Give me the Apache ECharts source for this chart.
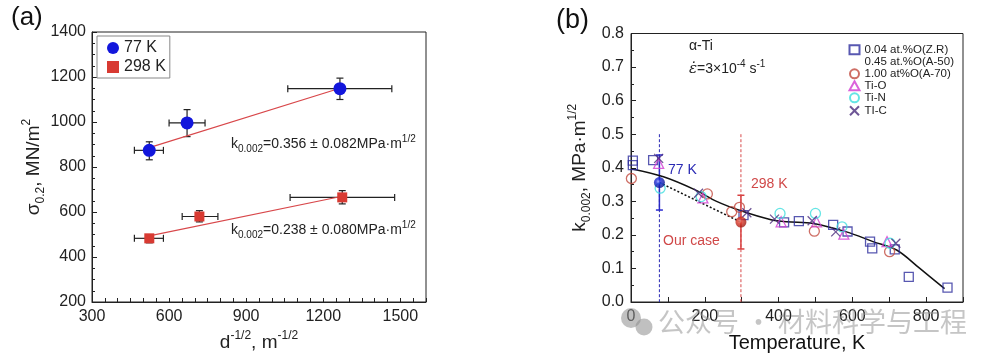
<!DOCTYPE html>
<html><head><meta charset="utf-8">
<script src="https://cdn.jsdelivr.net/npm/echarts/dist/echarts.min.js"></script>
<style>html,body{margin:0;padding:0;background:#fff}#c{width:983px;height:363px}</style>
</head><body><div id="c"></div><script>
// ---------- Panel (a) data ----------
const a77X = [523, 670, 1265];
const a77Y = [874, 996, 1148];
const a77XErr = [[465, 578], [600, 740], [1062, 1467]];
const a77YErr = [[832, 912], [935, 1055], [1100, 1195]];
const a298X = [523, 718, 1274];
const a298Y = [483, 580, 665];
const a298XErr = [[465, 578], [651, 790], [1071, 1478]];
const a298YErr = [[463, 499], [556, 606], [636, 695]];
const fit77 = [[523, 886], [1265, 1150]];
const fit298 = [[523, 494], [1274, 670]];
const aXTicks = [300, 600, 900, 1200, 1500];

// ---------- Panel (b) data ----------
const zrT  = [5, 5, 60, 305, 415, 455, 548, 587, 648, 654, 715, 753, 858];
const zrK  = [0.421, 0.408, 0.423, 0.259, 0.237, 0.241, 0.230, 0.210, 0.180, 0.160, 0.157, 0.075, 0.043];
const a50T = [];
const a50K = [];
const a70T = [1, 207, 273, 294, 497, 701];
const a70K = [0.368, 0.322, 0.269, 0.282, 0.211, 0.150];
const tiOT = [75, 195, 407, 503, 577, 694];
const tiOK = [0.413, 0.310, 0.239, 0.239, 0.202, 0.180];
const tiNT = [79, 190, 404, 500, 572, 702];
const tiNK = [0.339, 0.314, 0.264, 0.264, 0.224, 0.175];
const tiCT = [75, 183, 314, 389, 491, 555, 718];
const tiCK = [0.428, 0.324, 0.266, 0.247, 0.242, 0.209, 0.175];
const curveT = [0, 88, 174, 232, 300, 377, 422, 494, 584, 656, 720, 783, 850];
const curveK = [0.397, 0.373, 0.334, 0.300, 0.271, 0.246, 0.239, 0.234, 0.209, 0.180, 0.155, 0.100, 0.040];
const ourT = [77, 298];
const ourK = [0.356, 0.238];
const ourErr = [0.082, 0.080];
const refTop = 0.5;

const FONT = "'Liberation Sans', Arial, sans-serif";
const zip = (xs, ys) => xs.map((x, i) => [x, ys[i]]);

function errBars(xi, xs, ys, xe, ye, color, lw, cap) {
  return {
    type: 'custom', xAxisIndex: xi, yAxisIndex: xi, z: 2, silent: true,
    data: xs.map((x, i) => [x, ys[i], xe ? xe[i][0] : x, xe ? xe[i][1] : x, ye[i][0], ye[i][1]]),
    renderItem: function (params, api) {
      const x = api.value(0), y = api.value(1);
      const l = api.coord([api.value(2), y]), r = api.coord([api.value(3), y]);
      const b = api.coord([x, api.value(4)]), t = api.coord([x, api.value(5)]);
      const st = { stroke: color, lineWidth: lw };
      const ch = [];
      if (r[0] - l[0] > 0.5) {
        ch.push({ type: 'line', shape: { x1: l[0], y1: l[1], x2: r[0], y2: r[1] }, style: st });
        ch.push({ type: 'line', shape: { x1: l[0], y1: l[1] - cap, x2: l[0], y2: l[1] + cap }, style: st });
        ch.push({ type: 'line', shape: { x1: r[0], y1: r[1] - cap, x2: r[0], y2: r[1] + cap }, style: st });
      }
      ch.push({ type: 'line', shape: { x1: b[0], y1: b[1], x2: t[0], y2: t[1] }, style: st });
      ch.push({ type: 'line', shape: { x1: b[0] - cap, y1: b[1], x2: b[0] + cap, y2: b[1] }, style: st });
      ch.push({ type: 'line', shape: { x1: t[0] - cap, y1: t[1], x2: t[0] + cap, y2: t[1] }, style: st });
      return { type: 'group', children: ch };
    }
  };
}

const axisCommon = {
  axisLine: { show: true, lineStyle: { color: '#222', width: 1 } },
  axisTick: { show: true, inside: true, length: 5, lineStyle: { color: '#222' } },
  splitLine: { show: false },
  axisLabel: { color: '#222', fontSize: 16, fontFamily: FONT }
};
const nameRich = {
  n: { fontSize: 19, fontFamily: FONT, color: '#222', lineHeight: 26 },
  s: { fontSize: 12, fontFamily: FONT, color: '#222', verticalAlign: 'bottom' },
  p: { fontSize: 12, fontFamily: FONT, color: '#222', verticalAlign: 'top' }
};
const annRich = {
  n: { fontSize: 14, fontFamily: FONT, fill: '#222', lineHeight: 20 },
  s: { fontSize: 10, fontFamily: FONT, fill: '#222', verticalAlign: 'bottom' },
  p: { fontSize: 10, fontFamily: FONT, fill: '#222', verticalAlign: 'top' },
  e: { fontSize: 15, fontFamily: 'DejaVu Serif', fontStyle: 'italic', fill: '#222', lineHeight: 20 }
};

const hollow = (c) => ({ color: 'rgba(0,0,0,0)', borderColor: c, borderWidth: 1.3 });

const chart = echarts.init(document.getElementById('c'), null, { renderer: 'canvas' });
chart.setOption({
  animation: false,
  backgroundColor: '#fff',
  textStyle: { fontFamily: FONT },
  grid: [
    { left: 92, top: 32, width: 334, height: 270, show: true, borderColor: '#222', borderWidth: 1, containLabel: false },
    { left: 631, top: 33.5, width: 332, height: 268.5, show: true, borderColor: '#222', borderWidth: 1, containLabel: false }
  ],
  xAxis: [
    Object.assign({}, axisCommon, {
      gridIndex: 0, type: 'value', min: 300, max: 1600, interval: 50,
      axisLabel: Object.assign({}, axisCommon.axisLabel, { margin: 7,
        formatter: v => aXTicks.indexOf(Math.round(v)) >= 0 ? String(Math.round(v)) : '' }),
      axisTick: Object.assign({}, axisCommon.axisTick, { length: 4 }),
      name: '{n|d}{p|-1/2}{n|, m}{p|-1/2}', nameLocation: 'middle', nameGap: 27,
      nameTextStyle: { rich: nameRich }
    }),
    Object.assign({}, axisCommon, {
      gridIndex: 1, type: 'value', min: 0, max: 900, interval: 100,
      axisLabel: Object.assign({}, axisCommon.axisLabel, { margin: 7,
        formatter: v => (Math.round(v) % 200 === 0 ? String(Math.round(v)) : '') }),
      name: 'Temperature, K', nameLocation: 'middle', nameGap: 31,
      nameTextStyle: { fontSize: 20, fontFamily: FONT, color: '#111' }
    })
  ],
  yAxis: [
    Object.assign({}, axisCommon, {
      gridIndex: 0, type: 'value', min: 200, max: 1400, interval: 200,
      minorTick: { show: true, splitNumber: 4, length: 3, lineStyle: { color: '#222' } },
      axisLabel: Object.assign({}, axisCommon.axisLabel, { margin: 6, formatter: v => String(Math.round(v)) }),
      name: '{n|σ}{s|0.2}{n|, MN/m}{p|2}', nameLocation: 'middle', nameGap: 40, nameRotate: 90,
      nameTextStyle: { rich: nameRich }
    }),
    Object.assign({}, axisCommon, {
      gridIndex: 1, type: 'value', min: 0, max: 0.8, interval: 0.1,
      minorTick: { show: true, splitNumber: 2, length: 3, lineStyle: { color: '#222' } },
      axisLabel: Object.assign({}, axisCommon.axisLabel, { margin: 7, formatter: v => v.toFixed(1) }),
      name: '{n|k}{s|0.002}{n|, MPa·m}{p|1/2}', nameLocation: 'middle', nameGap: 38, nameRotate: 90,
      nameTextStyle: { rich: nameRich }
    })
  ],
  legend: [
    {
      left: 97, top: 36, orient: 'vertical', padding: [4, 4, 3, 10],
      borderColor: '#888', borderWidth: 1, borderRadius: 0,
      itemWidth: 12, itemHeight: 12, itemGap: 3,
      textStyle: { fontSize: 16, fontFamily: FONT, color: '#222' },
      data: ['77 K', { name: '298 K', icon: 'rect', itemStyle: { color: '#d83a32' } }]
    },
    {
      left: 847.5, top: 43.8, orient: 'vertical', padding: 0,
      itemWidth: 10, itemHeight: 9, itemGap: 0,
      textStyle: { fontSize: 11.5, fontFamily: FONT, color: '#222', lineHeight: 10.4 },
      data: [
        '0.04 at.%O(Z.R)',
        { name: '0.45 at.%O(A-50)', itemStyle: { opacity: 0 } },
        '1.00 at%O(A-70)', 'Ti-O', 'Ti-N', 'TI-C'
      ]
    }
  ],
  series: [
    // ----- panel (a) -----
    errBars(0, a77X, a77Y, a77XErr, a77YErr, '#222', 1.2, 3.5),
    errBars(0, a298X, a298Y, a298XErr, a298YErr, '#222', 1.2, 3.5),
    { type: 'line', xAxisIndex: 0, yAxisIndex: 0, data: fit77, symbol: 'none', z: 3,
      lineStyle: { color: '#d8474a', width: 1.2 } },
    { type: 'line', xAxisIndex: 0, yAxisIndex: 0, data: fit298, symbol: 'none', z: 3,
      lineStyle: { color: '#d8474a', width: 1.2 } },
    { name: '77 K', type: 'scatter', xAxisIndex: 0, yAxisIndex: 0, data: zip(a77X, a77Y),
      symbol: 'circle', symbolSize: 13, z: 4, itemStyle: { color: '#1216dc', opacity: 1 } },
    { name: '298 K', type: 'scatter', xAxisIndex: 0, yAxisIndex: 0, data: zip(a298X, a298Y),
      symbol: 'rect', symbolSize: 10, z: 4, itemStyle: { color: '#d83a32', opacity: 1 } },
    // ----- panel (b) -----
    { type: 'line', xAxisIndex: 1, yAxisIndex: 1, data: zip(curveT, curveK), symbol: 'none', smooth: 0.35, z: 3,
      lineStyle: { color: '#111', width: 1.5 } },
    { type: 'line', xAxisIndex: 1, yAxisIndex: 1, data: zip(ourT, ourK), symbol: 'none', z: 3,
      lineStyle: { color: '#111', width: 1.6, type: [2, 2] } },
    { type: 'line', xAxisIndex: 1, yAxisIndex: 1, data: [[ourT[0], refTop], [ourT[0], 0]], symbol: 'none', z: 2,
      lineStyle: { color: '#2a2ab4', width: 1, type: [3, 2] } },
    { type: 'line', xAxisIndex: 1, yAxisIndex: 1, data: [[ourT[1], refTop], [ourT[1], 0]], symbol: 'none', z: 2,
      lineStyle: { color: '#d84a4a', width: 1, type: [3, 2] } },
    { name: '0.04 at.%O(Z.R)', type: 'scatter', xAxisIndex: 1, yAxisIndex: 1, data: zip(zrT, zrK),
      symbol: 'rect', symbolSize: 9, z: 4, itemStyle: hollow('#2e2e9e') },
    { name: '0.45 at.%O(A-50)', type: 'scatter', xAxisIndex: 1, yAxisIndex: 1, data: zip(a50T, a50K),
      symbol: 'circle', symbolSize: 9, z: 4, itemStyle: hollow('#ffffff') },
    { name: '1.00 at%O(A-70)', type: 'scatter', xAxisIndex: 1, yAxisIndex: 1, data: zip(a70T, a70K),
      symbol: 'circle', symbolSize: 10, z: 4, itemStyle: hollow('#c24a3e') },
    { name: 'Ti-O', type: 'scatter', xAxisIndex: 1, yAxisIndex: 1, data: zip(tiOT, tiOK),
      symbol: 'triangle', symbolSize: 10, z: 4, itemStyle: hollow('#d23cd2') },
    { name: 'Ti-N', type: 'scatter', xAxisIndex: 1, yAxisIndex: 1, data: zip(tiNT, tiNK),
      symbol: 'circle', symbolSize: 10, z: 4, itemStyle: hollow('#3edede') },
    { name: 'TI-C', type: 'scatter', xAxisIndex: 1, yAxisIndex: 1, data: zip(tiCT, tiCK),
      symbol: 'path://M0,0L10,10M10,0L0,10', symbolSize: 9, z: 4,
      itemStyle: { color: 'none', borderColor: '#4a2c7c', borderWidth: 1.3 } },
    errBars(1, [ourT[0]], [ourK[0]], null, [[ourK[0] - ourErr[0], ourK[0] + ourErr[0]]], '#2a2ad0', 1.5, 3.5),
    errBars(1, [ourT[1]], [ourK[1]], null, [[ourK[1] - ourErr[1], ourK[1] + ourErr[1]]], '#d84040', 1.5, 3.5),
    { type: 'scatter', xAxisIndex: 1, yAxisIndex: 1, z: 6, symbol: 'circle', symbolSize: 11,
      data: [
        { value: [ourT[0], ourK[0]], itemStyle: { color: { type: 'radial', x: 0.4, y: 0.4, r: 0.6,
          colorStops: [{ offset: 0, color: '#9aa4ff' }, { offset: 0.35, color: '#1c2ad8' }, { offset: 1, color: '#0c1690' }] } } },
        { value: [ourT[1], ourK[1]], itemStyle: { color: { type: 'radial', x: 0.4, y: 0.4, r: 0.6,
          colorStops: [{ offset: 0, color: '#ffb0a0' }, { offset: 0.35, color: '#de3a2a' }, { offset: 1, color: '#a01810' }] } } }
      ] }
  ],
  graphic: [
    { type: 'text', x: 11, y: 5, style: { text: '(a)', fontSize: 26, fontFamily: FONT, fill: '#111' } },
    { type: 'text', x: 556, y: 7, style: { text: '(b)', fontSize: 27, fontFamily: FONT, fill: '#111' } },
    { type: 'text', x: 231, y: 144, z: 10, style: { text: '{n|k}{s|0.002}{n|=0.356 ± 0.082MPa·m}{p|1/2}',
      rich: annRich, verticalAlign: 'middle', align: 'left' } },
    { type: 'text', x: 231, y: 230, z: 10, style: { text: '{n|k}{s|0.002}{n|=0.238 ± 0.080MPa·m}{p|1/2}',
      rich: annRich, verticalAlign: 'middle', align: 'left' } },
    { type: 'text', x: 689, y: 46, z: 10, style: { text: 'α-Ti', fontSize: 14, fontFamily: FONT, fill: '#222',
      verticalAlign: 'middle' } },
    { type: 'text', x: 689, y: 69, z: 10, style: { text: '{e|ε̇}{n|=3×10}{p|-4}{n| s}{p|-1}',
      rich: annRich, verticalAlign: 'middle', align: 'left' } },
    { type: 'text', x: 668, y: 170, z: 10, style: { text: '77 K', fontSize: 14, fontFamily: FONT, fill: '#2a2ab4',
      verticalAlign: 'middle' } },
    { type: 'text', x: 751, y: 184, z: 10, style: { text: '298 K', fontSize: 14, fontFamily: FONT, fill: '#d04848',
      verticalAlign: 'middle' } },
    { type: 'text', x: 663, y: 241, z: 10, style: { text: 'Our case', fontSize: 14, fontFamily: FONT, fill: '#d04848',
      verticalAlign: 'middle' } },
    // watermark
    { type: 'circle', z: 20, shape: { cx: 631, cy: 318, r: 10 }, style: { fill: 'rgba(140,140,140,0.55)' } },
    { type: 'circle', z: 20, shape: { cx: 644, cy: 327, r: 8.5 }, style: { fill: 'rgba(140,140,140,0.55)' } },
    { type: 'text', x: 658, y: 322, z: 20, style: { text: '公众号 · 材料科学与工程', fontSize: 27,
      fontFamily: "'Noto Sans CJK SC', sans-serif", fill: 'rgba(150,150,150,0.55)', verticalAlign: 'middle' } }
  ]
});
</script></body></html>
